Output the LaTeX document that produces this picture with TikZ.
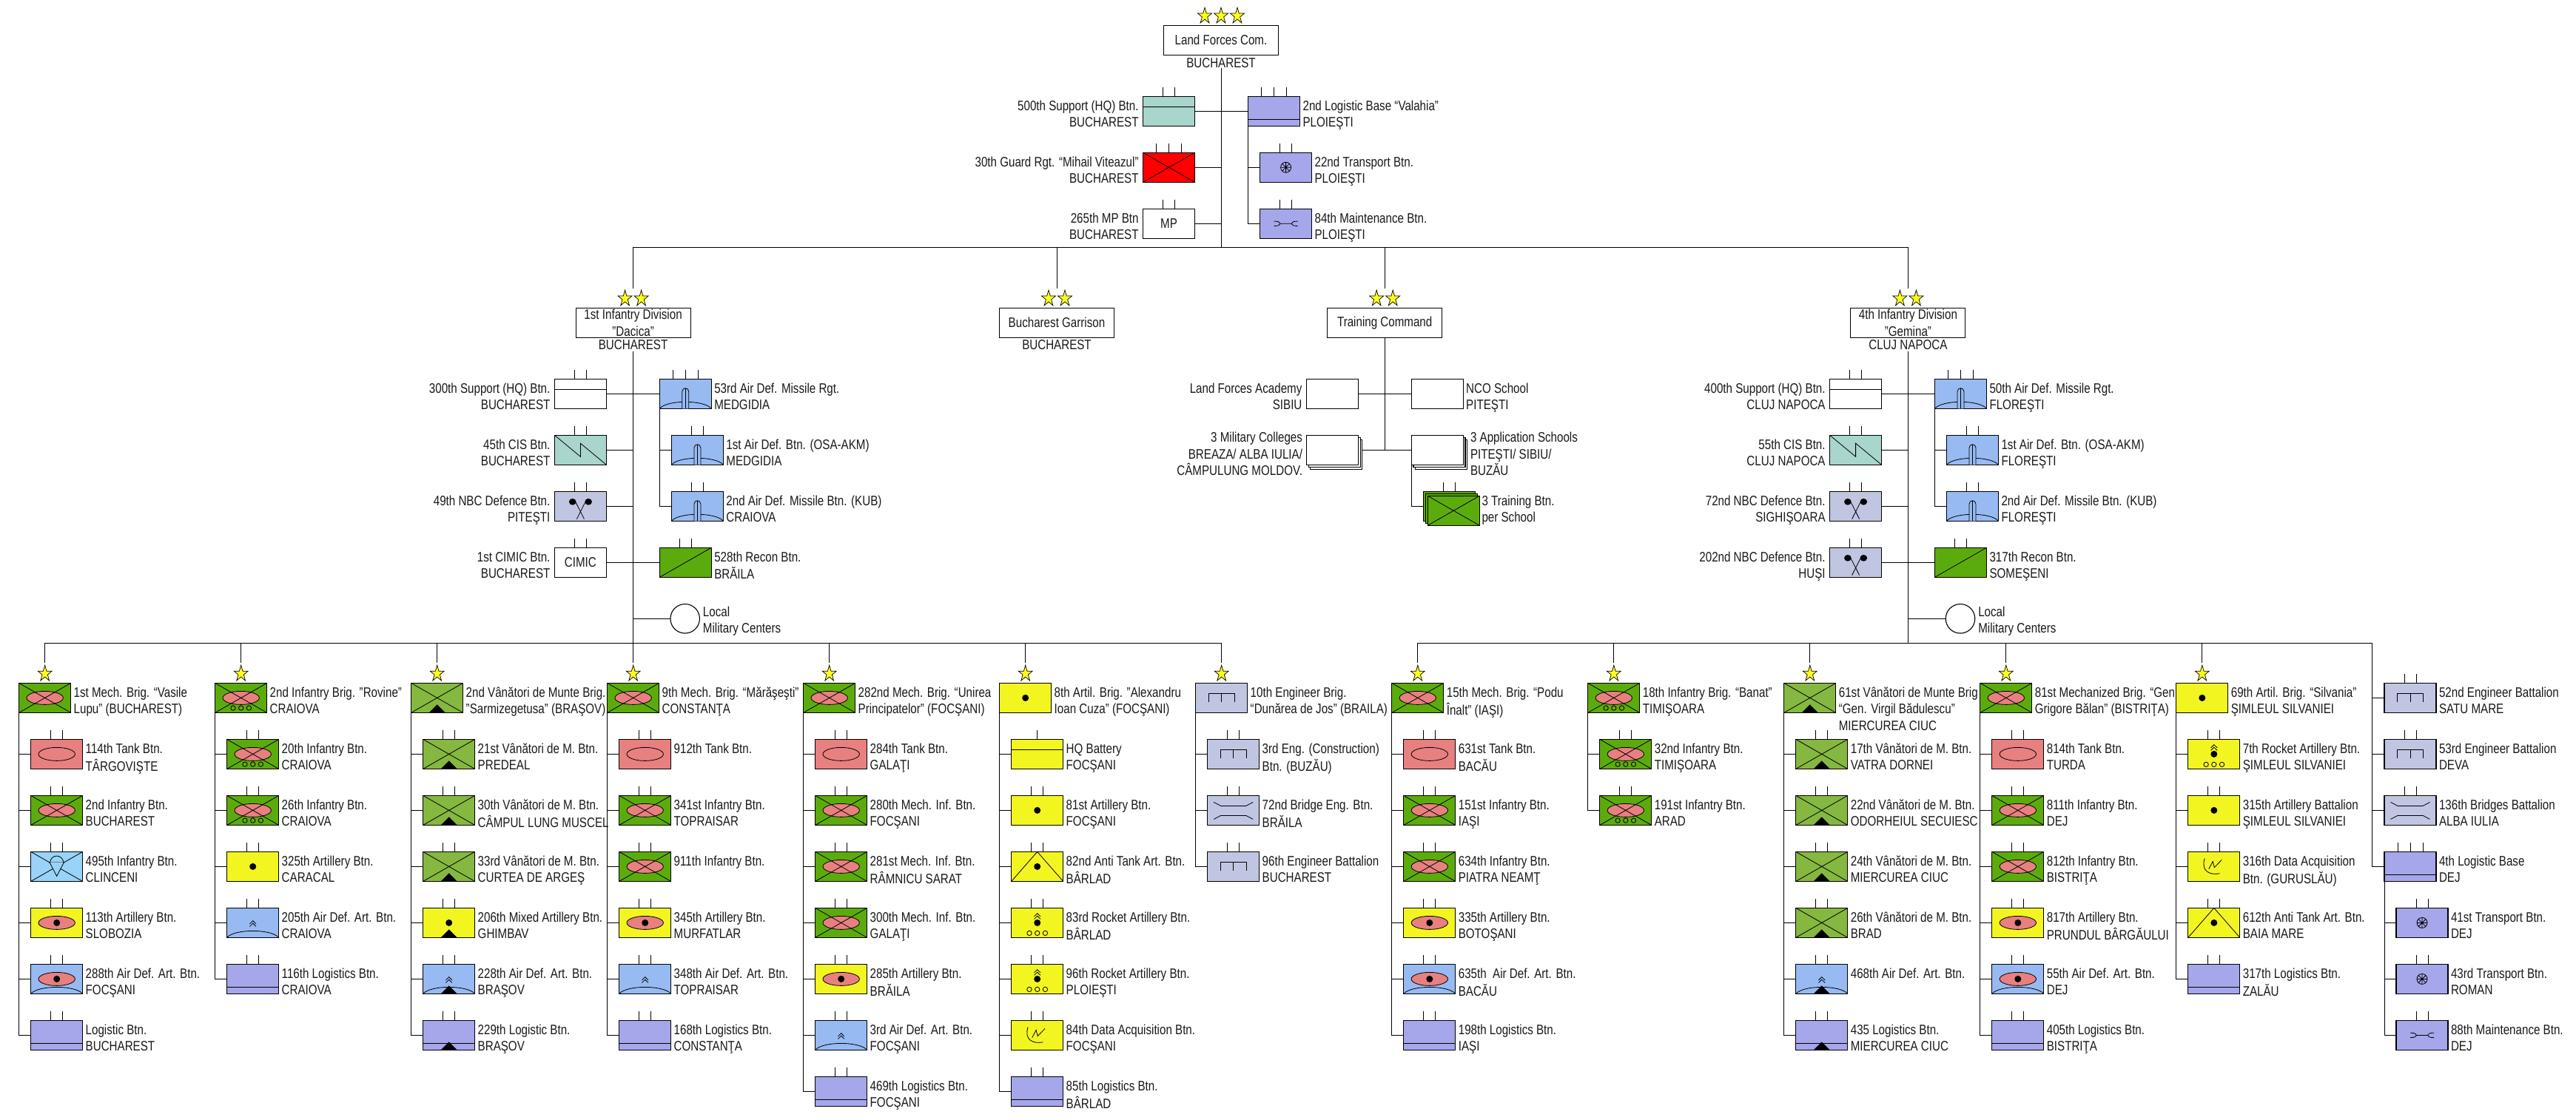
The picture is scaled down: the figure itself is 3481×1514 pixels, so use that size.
\documentclass[tikz,border=0pt]{standalone}
\usepackage{fontspec}
\setmainfont[FakeStretch=0.815]{Liberation Sans}
\definecolor{cInf}{HTML}{5CAB0C}
\definecolor{cVan}{HTML}{85B840}
\definecolor{cTank}{HTML}{E88080}
\definecolor{cArt}{HTML}{F2F520}
\definecolor{cAir}{HTML}{97BAF2}
\definecolor{cLog}{HTML}{A6A6EB}
\definecolor{cSup}{HTML}{A8D5CC}
\definecolor{cEng}{HTML}{C0C6E2}
\definecolor{cPara}{HTML}{99D3F7}
\definecolor{cStar}{HTML}{FFFF20}
\tikzset{
  txt/.style={font=\fontsize{18.6pt}{22.5pt}\selectfont,text=black!90},
  unitbox/.style={draw=black,line width=1.1pt,minimum width=70pt,minimum height=40pt,inner sep=0pt,outer sep=0pt,anchor=north west,txt},
  cmdbox/.style={draw=black,line width=1.1pt,fill=white,minimum width=155pt,minimum height=40pt,inner sep=0pt,outer sep=0pt,align=center,txt},
  link/.style={line width=1pt,line cap=rect},
  symline/.style={line width=.8pt},
  rlab/.style={anchor=north west,inner sep=0pt,outer sep=0pt,align=left,txt},
  llab/.style={anchor=north east,inner sep=0pt,outer sep=0pt,align=right,txt},
  blab/.style={anchor=north,inner sep=0pt,outer sep=0pt,align=center,txt},
  starst/.style={draw=black,fill=cStar,line width=.7pt,line join=miter},
}
% --- symbols, in the box's own frame (centre 0,0; y downward)
\newcommand\syX{\draw (-35,-20)--(35,20) (-35,20)--(35,-20);}
\newcommand\syEll{\draw[fill=cTank] (0,0) ellipse [x radius=24.7pt,y radius=9pt];}
\newcommand\syInf{\syEll\syX}
\newcommand\syWheels[1]{\foreach \wx in {-10.7,0,10.7}{\draw (\wx,#1) circle [radius=3.2pt];}}
\newcommand\syInfW{\syEll\syX\syWheels{13.7}}
\newcommand\syDot{\fill (0,0) circle [radius=4.5pt];}
\newcommand\syTri{\fill (-11,20)--(0,9)--(11,20)--cycle;}
\newcommand\syVan{\syX\syTri}
\newcommand\syArc{\draw (-35,20) .. controls (-25,8) and (25,8) .. (35,20);}
\newcommand\syChev[1]{\draw (-4.3,{#1+1.5})--(0,{#1-2.7})--(4.3,{#1+1.5}) (-4.3,{#1+5})--(0,{#1+.8})--(4.3,{#1+5});}
\newcommand\syEye{\syEll\syDot}
\newcommand\syAirEye{\syArc\syEll\syDot}
\newcommand\syAirArt{\syArc\syChev{0}}
\newcommand\syAirVan{\syArc\syChev{0}\syTri}
\newcommand\syMissile{\syArc\draw[fill=cAir] (-4.5,20)--(-4.5,-3) .. controls (-4.5,-6) and (-2,-7.5) .. (0,-7.5) .. controls (2,-7.5) and (4.5,-6) .. (4.5,-3)--(4.5,20);\draw (0,-7.5)--(0,20);}
\newcommand\syLog{\draw[line width=1.1pt] (-35,11)--(35,11);}
\newcommand\syHQ{\draw[line width=1.1pt] (-35,-6)--(35,-6);}
\newcommand\syLogVan{\syLog\syTri}
\newcommand\syEng{\draw (-17.5,6)--(-17.5,-6)--(17.5,-6)--(17.5,6) (0,-6)--(0,6);}
\newcommand\syBridge{\draw (-26.5,-11)--(-17,-6)--(17,-6)--(26.5,-11) (-26.5,12)--(-17,7)--(17,7)--(26.5,12);}
\newcommand\syWheel{\draw (0,0) circle [radius=7pt] (-7,0)--(7,0) (0,-7)--(0,7) (-5,-5)--(5,5) (-5,5)--(5,-5);}
\newcommand\syWrench{\draw (-16,-3.2) .. controls (-10,-3.2) and (-8,-2) .. (-7.5,0) .. controls (-8,2) and (-10,3.2) .. (-16,3.2) (-7.5,0)--(7.5,0) (16,-3.2) .. controls (10,-3.2) and (8,-2) .. (7.5,0) .. controls (8,2) and (10,3.2) .. (16,3.2);}
\newcommand\syPara{\syX\draw[fill=cPara] (-9.5,-5.3) .. controls (-8,-12) and (-4,-14.3) .. (0,-14.3) .. controls (4,-14.3) and (8,-12) .. (9.5,-5.3) -- cycle;\draw[fill=cPara] (-9.5,-5.3)--(0,13)--(9.5,-5.3);}
\newcommand\syCIS{\draw (-35,-20)--(0,9)--(0,-9)--(35,20);}
\newcommand\syNBC{\fill (-10.7,-6) ellipse [x radius=4.8pt,y radius=4.4pt] (10.7,-6) ellipse [x radius=4.8pt,y radius=4.4pt];\draw (-6.2,-5)--(5,17.3) (6.2,-5)--(-5,17.3);}
\newcommand\syRecon{\draw (-35,20)--(35,-20);}
\newcommand\syAT{\draw (-35,20)--(0,-20)--(35,20);\syDot}
\newcommand\syRocket{\syChev{-10}\syDot\syWheels{14}}
\newcommand\syData{\draw (-12.6,-11) .. controls (-18,6) and (-6,12) .. (7.7,9.4) (-7,3.3)--(-1.6,-7)--(0.5,1.2)--(10.4,-9);}
% --- building blocks
\newcommand\TickAt[2]{\draw[link,line cap=butt] ([xshift=#2pt]#1.north)--++(0,-12);}
\newcommand\TickRow[2]{\ifcase#2\or\TickAt{#1}{0}\or\TickAt{#1}{-8}\TickAt{#1}{8}\or\TickAt{#1}{-17}\TickAt{#1}{0}\TickAt{#1}{17}\fi}
\newcommand\UnitBase[6]{\node[unitbox,fill=#4] (#1) at (#2,#3) {};
  \begin{scope}[shift={(#1.center)},symline]#6\end{scope}
  \TickRow{#1}{#5}}
\newcommand\UnitR[7]{\UnitBase{#1}{#2}{#3}{#4}{#5}{#6}
  \node[rlab] (#1-t) at ([xshift=4pt,yshift=-3pt]#1.north east) {\strut #7};}
\newcommand\UnitL[7]{\UnitBase{#1}{#2}{#3}{#4}{#5}{#6}
  \node[llab] (#1-t) at ([xshift=-6pt,yshift=-3pt]#1.north west) {\strut #7};}
\newcommand\Stars[2]{\foreach \sd in {#2}{\begin{scope}[shift={(#1.north)},xshift=\sd pt,yshift=12.7pt]
  \path[starst] (0,-11.5)--(2.25,-3.55)--(9.51,-3.55)--(3.63,1.36)--(5.88,9.3)--(0,4.39)--(-5.88,9.3)--(-3.63,1.36)--(-9.51,-3.55)--(-2.25,-3.55)--cycle;\end{scope}}}
\newcommand\Brigade[5]{\def\cl{#2}\UnitR{#1}{#2}{923.4}{#3}{0}{#4}{#5}\Stars{#1}{0}
  \draw[link,line cap=butt] (#1.north |- busL)--++(0,27);}
\newcommand\SubUnit[6]{\UnitR{#1r#2}{\cl+16}{999.4+76*#2}{#3}{#4}{#5}{#6}
  \draw[link] (#1.south west) |- (#1r#2.west);}
\newcommand\Mil[3]{\node[draw=black,line width=1.1pt,fill=white,circle,minimum size=39.5pt,inner sep=0pt,outer sep=0pt] (#1) at (#2,836.3) {};
  \node[rlab] (#1-t) at ([xshift=4.5pt,yshift=-1pt]#1.east |- #1.north) {\strut Local\\Military Centers};
  \draw[link] (#3.center |- #1.west)--(#1.west);}
\begin{document}
\begin{tikzpicture}[x=1pt,y=-1pt]
\fill[white] (0,0) rectangle (3481,1514);
\useasboundingbox (0,0) rectangle (3481,1514);
\coordinate (busT) at (0,335);
\coordinate (busL) at (0,869.4);
% ===== Land Forces Command
\node[cmdbox] (lf) at (1650,54.3) {Land Forces Com.};
\Stars{lf}{-22,0,22}
\node[blab] (lf-t) at ([yshift=-1.5pt]lf.south) {\strut BUCHAREST};
\coordinate (lf-foot) at (1650,93);
\draw[link] (lf-foot)--(lf-foot |- busT);
\UnitL{sup500}{1544.6}{130.3}{cSup}{2}{\syHQ}{500th Support (HQ) Btn.\\BUCHAREST}
\UnitL{gd30}{1544.6}{206.3}{red}{3}{\syX}{30th Guard Rgt. “Mihail Viteazul”\\BUCHAREST}
\UnitL{mp265}{1544.6}{282.3}{white}{2}{\node[txt] (mp265-s) at (0,0) {MP};}{265th MP Btn\\BUCHAREST}
\UnitR{log2}{1686.6}{130.3}{cLog}{3}{\syLog}{2nd Logistic Base “Valahia”\\PLOIEŞTI}
\UnitR{tr22}{1702.6}{206.3}{cLog}{2}{\syWheel}{22nd Transport Btn.\\PLOIEŞTI}
\UnitR{mt84}{1702.6}{282.3}{cLog}{2}{\syWrench}{84th Maintenance Btn.\\PLOIEŞTI}
\draw[link] (sup500.east)--(log2.west);
\draw[link] (gd30.east)--(gd30.east -| lf-foot);
\draw[link] (mp265.east)--(mp265.east -| lf-foot);
\draw[link] (log2.south west) |- (tr22.west);
\draw[link] (log2.south west) |- (mt84.west);
% ===== second level
\node[cmdbox] (d1) at (855.6,436.3) {1st Infantry Division\\"Dacica"};
\node[cmdbox] (gar) at (1428,436.3) {Bucharest Garrison};
\node[cmdbox] (tc) at (1871.2,436.3) {Training Command};
\node[cmdbox] (d4) at (2578.4,436.3) {4th Infantry Division\\"Gemina"};
\Stars{d1}{-11,11}\Stars{gar}{-11,11}\Stars{tc}{-11,11}\Stars{d4}{-11,11}
\node[blab] (d1-t) at (d1.south) {\strut BUCHAREST};
\node[blab] (gar-t) at (gar.south) {\strut BUCHAREST};
\node[blab] (d4-t) at (d4.south) {\strut CLUJ NAPOCA};
\draw[link] (d1.north |- busT)--(d4.north |- busT);
\foreach \n in {d1,gar,tc,d4}{\draw[link,line cap=butt] (\n.north |- busT)--++(0,55);}
% ===== 1st Infantry Division
\coordinate (d1-foot) at (855.6,475);
\draw[link] (d1-foot)--(d1-foot |- busL);
\UnitL{a300}{749.4}{512.3}{white}{2}{\syHQ}{300th Support (HQ) Btn.\\BUCHAREST}
\UnitL{a45}{749.4}{588.3}{cSup}{2}{\syCIS}{45th CIS Btn.\\BUCHAREST}
\UnitL{a49}{749.4}{664.3}{cEng}{2}{\syNBC}{49th NBC Defence Btn.\\PITEŞTI}
\UnitL{a1c}{749.4}{740.3}{white}{2}{\node[txt] (a1c-s) at (0,0) {CIMIC};}{1st CIMIC Btn.\\BUCHAREST}
\UnitR{a53}{891.3}{512.3}{cAir}{3}{\syMissile}{53rd Air Def. Missile Rgt.\\MEDGIDIA}
\UnitR{a1o}{907.4}{588.3}{cAir}{2}{\syMissile}{1st Air Def. Btn. (OSA-AKM)\\MEDGIDIA}
\UnitR{a2k}{907.4}{664.3}{cAir}{2}{\syMissile}{2nd Air Def. Missile Btn. (KUB)\\CRAIOVA}
\UnitR{a528}{891.3}{740.3}{cInf}{2}{\syRecon}{528th Recon Btn.\\BRĂILA}
\Mil{am}{925.7}{d1-foot}
\draw[link] (a300.east)--(a53.west);
\draw[link] (a45.east)--(a45.east -| d1-foot);
\draw[link] (a49.east)--(a49.east -| d1-foot);
\draw[link] (a1c.east)--(a528.west);
\draw[link] (a53.south west) |- (a1o.west);
\draw[link] (a53.south west) |- (a2k.west);
% ===== 4th Infantry Division
\coordinate (d4-foot) at (2578.4,475);
\draw[link] (d4-foot)--(d4-foot |- busL);
\UnitL{b400}{2472.6}{512.3}{white}{2}{\syHQ}{400th Support (HQ) Btn.\\CLUJ NAPOCA}
\UnitL{b55}{2472.6}{588.3}{cSup}{2}{\syCIS}{55th CIS Btn.\\CLUJ NAPOCA}
\UnitL{b72}{2472.6}{664.3}{cEng}{2}{\syNBC}{72nd NBC Defence Btn.\\SIGHIŞOARA}
\UnitL{b202}{2472.6}{740.3}{cEng}{2}{\syNBC}{202nd NBC Defence Btn.\\HUŞI}
\UnitR{b50}{2614.5}{512.3}{cAir}{3}{\syMissile}{50th Air Def. Missile Rgt.\\FLOREŞTI}
\UnitR{b1o}{2630.5}{588.3}{cAir}{2}{\syMissile}{1st Air Def. Btn. (OSA-AKM)\\FLOREŞTI}
\UnitR{b2k}{2630.5}{664.3}{cAir}{2}{\syMissile}{2nd Air Def. Missile Btn. (KUB)\\FLOREŞTI}
\UnitR{b317}{2614.5}{740.3}{cInf}{2}{\syRecon}{317th Recon Btn.\\SOMEŞENI}
\Mil{bm}{2649}{d4-foot}
\draw[link] (b400.east)--(b50.west);
\draw[link] (b55.east)--(b55.east -| d4-foot);
\draw[link] (b72.east)--(b72.east -| d4-foot);
\draw[link] (b202.east)--(b317.west);
\draw[link] (b50.south west) |- (b1o.west);
\draw[link] (b50.south west) |- (b2k.west);
% ===== Training Command
\draw[link] (tc.south)--(tc.south |- 0,608.3);
\UnitL{lfa}{1765.4}{512.3}{white}{0}{}{Land Forces Academy\\SIBIU}
\UnitR{nco}{1907.2}{512.3}{white}{0}{}{NCO School\\PITEŞTI}
\draw[link] (lfa.east)--(nco.west);
\node[unitbox,fill=white] (colb2) at (1770.9,594.3) {};
\node[unitbox,fill=white] (colb1) at (1768.2,591.3) {};
\node[unitbox,fill=white] (col) at (1765.4,588.3) {};
\node[llab] (col-t) at (1760,581.9) {\strut 3 Military Colleges\\BREAZA/ ALBA IULIA/\\CÂMPULUNG MOLDOV.\hspace{5pt}};
\node[unitbox,fill=white] (appb2) at (1912.7,594.3) {};
\node[unitbox,fill=white] (appb1) at (1910,591.3) {};
\node[unitbox,fill=white] (app) at (1907.2,588.3) {};
\node[rlab] (app-t) at (1987,581.9) {\strut 3 Application Schools\\PITEŞTI/ SIBIU/\\BUZĂU};
\draw[link] (colb2.east |- col.west)--(app.west);
\node[unitbox,fill=cInf] (trb3) at (1923.3,664.3) {};
\node[unitbox,fill=cInf] (trb2) at (1926.3,667.3) {};
\node[unitbox,fill=cInf] (trb) at (1929.3,670.3) {};
\begin{scope}[shift={(trb.center)},symline]\syX\end{scope}
\TickRow{trb3}{2}
\node[rlab] (trb-t) at (2002.5,667.5) {\strut 3 Training Btn.\\per School};
\draw[link] (app.south west) |- (trb3.west);
% ===== brigades, left group
\Brigade{c1}{25.7}{cInf}{\syInf}{1st Mech. Brig. “Vasile\\Lupu" (BUCHAREST)}
\SubUnit{c1}{0}{cTank}{2}{\syEll}{114th Tank Btn.\\TÂRGOVIŞTE}
\SubUnit{c1}{1}{cInf}{2}{\syInf}{2nd Infantry Btn.\\BUCHAREST}
\SubUnit{c1}{2}{cPara}{2}{\syPara}{495th Infantry Btn.\\CLINCENI}
\SubUnit{c1}{3}{cArt}{2}{\syEye}{113th Artillery Btn.\\SLOBOZIA}
\SubUnit{c1}{4}{cAir}{2}{\syAirEye}{288th Air Def. Art. Btn.\\FOCŞANI}
\SubUnit{c1}{5}{cLog}{2}{\syLog}{Logistic Btn.\\BUCHAREST}
\Brigade{c2}{290.7}{cInf}{\syInfW}{2nd Infantry Brig. "Rovine"\\CRAIOVA}
\SubUnit{c2}{0}{cInf}{2}{\syInfW}{20th Infantry Btn.\\CRAIOVA}
\SubUnit{c2}{1}{cInf}{2}{\syInfW}{26th Infantry Btn.\\CRAIOVA}
\SubUnit{c2}{2}{cArt}{2}{\syDot}{325th Artillery Btn.\\CARACAL}
\SubUnit{c2}{3}{cAir}{2}{\syAirArt}{205th Air Def. Art. Btn.\\CRAIOVA}
\SubUnit{c2}{4}{cLog}{2}{\syLog}{116th Logistics Btn.\\CRAIOVA}
\Brigade{c3}{555.7}{cVan}{\syVan}{2nd Vânători de Munte Brig.\\"Sarmizegetusa" (BRAŞOV)}
\SubUnit{c3}{0}{cVan}{2}{\syVan}{21st Vânători de M. Btn.\\PREDEAL}
\SubUnit{c3}{1}{cVan}{2}{\syVan}{30th Vânători de M. Btn.\\CÂMPUL LUNG MUSCEL}
\SubUnit{c3}{2}{cVan}{2}{\syVan}{33rd Vânători de M. Btn.\\CURTEA DE ARGEŞ}
\SubUnit{c3}{3}{cArt}{2}{\syDot\syTri}{206th Mixed Artillery Btn.\\GHIMBAV}
\SubUnit{c3}{4}{cAir}{2}{\syAirVan}{228th Air Def. Art. Btn.\\BRAŞOV}
\SubUnit{c3}{5}{cLog}{2}{\syLogVan}{229th Logistic Btn.\\BRAŞOV}
\Brigade{c4}{820.7}{cInf}{\syInf}{9th Mech. Brig. “Mărăşeşti”\\CONSTANŢA}
\SubUnit{c4}{0}{cTank}{2}{\syEll}{912th Tank Btn.}
\SubUnit{c4}{1}{cInf}{2}{\syInf}{341st Infantry Btn.\\TOPRAISAR}
\SubUnit{c4}{2}{cInf}{2}{\syInf}{911th Infantry Btn.}
\SubUnit{c4}{3}{cArt}{2}{\syEye}{345th Artillery Btn.\\MURFATLAR}
\SubUnit{c4}{4}{cAir}{2}{\syAirArt}{348th Air Def. Art. Btn.\\TOPRAISAR}
\SubUnit{c4}{5}{cLog}{2}{\syLog}{168th Logistics Btn.\\CONSTANŢA}
\Brigade{c5}{1085.7}{cInf}{\syInf}{282nd Mech. Brig. “Unirea\\Principatelor” (FOCŞANI)}
\SubUnit{c5}{0}{cTank}{2}{\syEll}{284th Tank Btn.\\GALAŢI}
\SubUnit{c5}{1}{cInf}{2}{\syInf}{280th Mech. Inf. Btn.\\FOCŞANI}
\SubUnit{c5}{2}{cInf}{2}{\syInf}{281st Mech. Inf. Btn.\\RÂMNICU SARAT}
\SubUnit{c5}{3}{cInf}{2}{\syInf}{300th Mech. Inf. Btn.\\GALAŢI}
\SubUnit{c5}{4}{cArt}{2}{\syEye}{285th Artillery Btn.\\BRĂILA}
\SubUnit{c5}{5}{cAir}{2}{\syAirArt}{3rd Air Def. Art. Btn.\\FOCŞANI}
\SubUnit{c5}{6}{cLog}{2}{\syLog}{469th Logistics Btn.\\FOCŞANI}
\Brigade{c6}{1350.7}{cArt}{\syDot}{8th Artil. Brig. "Alexandru\\Ioan Cuza" (FOCŞANI)}
\SubUnit{c6}{0}{cArt}{1}{\syHQ}{HQ Battery\\FOCŞANI}
\SubUnit{c6}{1}{cArt}{2}{\syDot}{81st Artillery Btn.\\FOCŞANI}
\SubUnit{c6}{2}{cArt}{2}{\syAT}{82nd Anti Tank Art. Btn.\\BÂRLAD}
\SubUnit{c6}{3}{cArt}{2}{\syRocket}{83rd Rocket Artillery Btn.\\BÂRLAD}
\SubUnit{c6}{4}{cArt}{2}{\syRocket}{96th Rocket Artillery Btn.\\PLOIEŞTI}
\SubUnit{c6}{5}{cArt}{2}{\syData}{84th Data Acquisition Btn.\\FOCŞANI}
\SubUnit{c6}{6}{cLog}{2}{\syLog}{85th Logistics Btn.\\BÂRLAD}
\Brigade{c7}{1615.7}{cEng}{\syEng}{10th Engineer Brig.\\“Dunărea de Jos” (BRAILA)}
\SubUnit{c7}{0}{cEng}{2}{\syEng}{3rd Eng. (Construction)\\Btn. (BUZĂU)}
\SubUnit{c7}{1}{cEng}{2}{\syBridge}{72nd Bridge Eng. Btn.\\BRĂILA}
\SubUnit{c7}{2}{cEng}{2}{\syEng}{96th Engineer Battalion\\BUCHAREST}
\draw[link] (c1.north |- busL)--(c7.north |- busL);
% ===== brigades, right group
\Brigade{c8}{1880.8}{cInf}{\syInf}{15th Mech. Brig. “Podu\\Înalt” (IAŞI)}
\SubUnit{c8}{0}{cTank}{2}{\syEll}{631st Tank Btn.\\BACĂU}
\SubUnit{c8}{1}{cInf}{2}{\syInf}{151st Infantry Btn.\\IAŞI}
\SubUnit{c8}{2}{cInf}{2}{\syInf}{634th Infantry Btn.\\PIATRA NEAMŢ}
\SubUnit{c8}{3}{cArt}{2}{\syEye}{335th Artillery Btn.\\BOTOŞANI}
\SubUnit{c8}{4}{cAir}{2}{\syAirEye}{635th\ \ Air Def. Art. Btn.\\BACĂU}
\SubUnit{c8}{5}{cLog}{2}{\syLog}{198th Logistics Btn.\\IAŞI}
\Brigade{c9}{2145.8}{cInf}{\syInfW}{18th Infantry Brig. “Banat”\\TIMIŞOARA}
\SubUnit{c9}{0}{cInf}{2}{\syInfW}{32nd Infantry Btn.\\TIMIŞOARA}
\SubUnit{c9}{1}{cInf}{2}{\syInfW}{191st Infantry Btn.\\ARAD}
\Brigade{c10}{2410.8}{cVan}{\syVan}{61st Vânători de Munte Brig\\“Gen. Virgil Bădulescu”\\MIERCUREA CIUC}
\SubUnit{c10}{0}{cVan}{2}{\syVan}{17th Vânători de M. Btn.\\VATRA DORNEI}
\SubUnit{c10}{1}{cVan}{2}{\syVan}{22nd Vânători de M. Btn.\\ODORHEIUL SECUIESC}
\SubUnit{c10}{2}{cVan}{2}{\syVan}{24th Vânători de M. Btn.\\MIERCUREA CIUC}
\SubUnit{c10}{3}{cVan}{2}{\syVan}{26th Vânători de M. Btn.\\BRAD}
\SubUnit{c10}{4}{cAir}{2}{\syAirVan}{468th Air Def. Art. Btn.}
\SubUnit{c10}{5}{cLog}{2}{\syLogVan}{435 Logistics Btn.\\MIERCUREA CIUC}
\Brigade{c11}{2675.8}{cInf}{\syInf}{81st Mechanized Brig. “Gen.\\Grigore Bălan” (BISTRIŢA)}
\SubUnit{c11}{0}{cTank}{2}{\syEll}{814th Tank Btn.\\TURDA}
\SubUnit{c11}{1}{cInf}{2}{\syInf}{811th Infantry Btn.\\DEJ}
\SubUnit{c11}{2}{cInf}{2}{\syInf}{812th Infantry Btn.\\BISTRIŢA}
\SubUnit{c11}{3}{cArt}{2}{\syEye}{817th Artillery Btn.\\PRUNDUL BÂRGĂULUI}
\SubUnit{c11}{4}{cAir}{2}{\syAirEye}{55th Air Def. Art. Btn.\\DEJ}
\SubUnit{c11}{5}{cLog}{2}{\syLog}{405th Logistics Btn.\\BISTRIŢA}
\Brigade{c12}{2940.8}{cArt}{\syDot}{69th Artil. Brig. “Silvania”\\ŞIMLEUL SILVANIEI}
\SubUnit{c12}{0}{cArt}{2}{\syRocket}{7th Rocket Artillery Btn.\\ŞIMLEUL SILVANIEI}
\SubUnit{c12}{1}{cArt}{2}{\syDot}{315th Artillery Battalion\\ŞIMLEUL SILVANIEI}
\SubUnit{c12}{2}{cArt}{2}{\syData}{316th Data Acquisition\\Btn. (GURUSLĂU)}
\SubUnit{c12}{3}{cArt}{2}{\syAT}{612th Anti Tank Art. Btn.\\BAIA MARE}
\SubUnit{c12}{4}{cLog}{2}{\syLog}{317th Logistics Btn.\\ZALĂU}
% ----- last column, no star
\coordinate (c13s) at (3205.3,923.4);
\UnitR{c13}{3222}{923.4}{cEng}{2}{\syEng}{52nd Engineer Battalion\\SATU MARE}
\UnitR{c13r0}{3222}{999.4}{cEng}{2}{\syEng}{53rd Engineer Battalion\\DEVA}
\UnitR{c13r1}{3222}{1075.4}{cEng}{2}{\syBridge}{136th Bridges Battalion\\ALBA IULIA}
\UnitR{c13r2}{3222}{1151.4}{cLog}{3}{\syLog}{4th Logistic Base\\DEJ}
\UnitR{c13r3}{3238}{1227.4}{cLog}{2}{\syWheel}{41st Transport Btn.\\DEJ}
\UnitR{c13r4}{3238}{1303.4}{cLog}{2}{\syWheel}{43rd Transport Btn.\\ROMAN}
\UnitR{c13r5}{3238}{1379.4}{cLog}{2}{\syWrench}{88th Maintenance Btn.\\DEJ}
\draw[link] (c8.north |- busL)--(c13s |- busL)--(c13s |- c13r2.west)--(c13r2.west);
\draw[link] (c13s |- c13.west)--(c13.west);
\draw[link] (c13s |- c13r0.west)--(c13r0.west);
\draw[link] (c13s |- c13r1.west)--(c13r1.west);
\draw[link] (c13r2.south west) |- (c13r3.west);
\draw[link] (c13r2.south west) |- (c13r4.west);
\draw[link] (c13r2.south west) |- (c13r5.west);
\end{tikzpicture}
\end{document}
